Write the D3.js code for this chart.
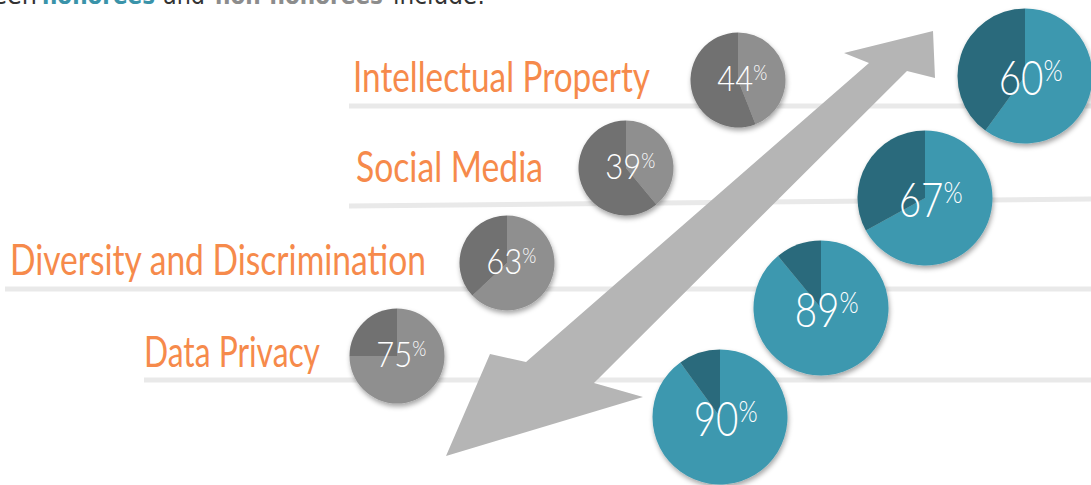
<!DOCTYPE html>
<html>
<head>
<meta charset="UTF-8"/>
<title>Honorees vs non-honorees</title>
<script src="https://d3js.org/d3.v7.min.js"></script>
<style>
body { margin: 0; background: #fff; }
svg { display: block; }
</style>
</head>
<body>
<div id="chart"></div>
<script>

// DATA
var topics = ["Intellectual Property", "Social Media", "Diversity and Discrimination", "Data Privacy"];
var nonHonorees = [44, 39, 63, 75];
var honorees = [60, 67, 89, 90];

// LAYOUT (pixels)
var labelPos = [[353, 92, 297], [356, 182, 187], [10, 275, 416], [144, 367, 176]];
var rulePos = [[349, 106, 106], [349, 206, 199], [5, 289, 289], [144, 380, 380]];
var greyPos = [[738, 80], [626, 168], [507, 263], [397, 356]];
var tealPos = [[1025, 76], [925, 198], [821, 308], [720, 417]];
var arrowPts = [[933, 31], [935, 78], [907, 71], [594, 383], [643, 397],
                [446, 456], [490, 354], [526, 362], [869, 63], [844, 53]];

var W = 1091, H = 485;

var svg = d3.select("#chart").append("svg")
    .attr("width", W)
    .attr("height", H);

var defs = svg.append("defs");
defs.append("filter")
    .attr("id", "shadow")
    .attr("x", "-20%").attr("y", "-20%")
    .attr("width", "140%").attr("height", "150%")
  .append("feDropShadow")
    .attr("dx", 1).attr("dy", 3)
    .attr("stdDeviation", 2.5)
    .attr("flood-color", "#000")
    .attr("flood-opacity", 0.35);

// header line, mostly cut off at the top
var head = svg.append("g")
    .attr("font-family", "'DejaVu Sans', sans-serif")
    .attr("font-size", 24);
head.append("text").attr("x", 37).attr("y", 4).attr("text-anchor", "end")
    .attr("fill", "#333").text("between");
head.append("text").attr("x", 42).attr("y", 4).attr("textLength", 113)
    .attr("lengthAdjust", "spacingAndGlyphs")
    .attr("font-weight", "bold").attr("fill", "#3a93a9").text("honorees");
head.append("text").attr("x", 163).attr("y", 4).attr("textLength", 42)
    .attr("lengthAdjust", "spacingAndGlyphs")
    .attr("fill", "#333").text("and");
head.append("text").attr("x", 215).attr("y", 4).attr("textLength", 168)
    .attr("lengthAdjust", "spacingAndGlyphs")
    .attr("font-weight", "bold").attr("fill", "#8c8c8c").text("non-honorees");
head.append("text").attr("x", 393).attr("y", 4).attr("textLength", 92)
    .attr("lengthAdjust", "spacingAndGlyphs")
    .attr("fill", "#333").text("include:");

// rules
svg.append("g").selectAll("line")
    .data(rulePos)
  .enter().append("line")
    .attr("x1", function(d) { return d[0]; })
    .attr("y1", function(d) { return d[1]; })
    .attr("x2", W)
    .attr("y2", function(d) { return d[2]; })
    .attr("stroke", "#e9e9e9")
    .attr("stroke-width", 5);

// topic labels
svg.append("g").selectAll("text")
    .data(topics)
  .enter().append("text")
    .attr("x", function(d, i) { return labelPos[i][0]; })
    .attr("y", function(d, i) { return labelPos[i][1]; })
    .attr("textLength", function(d, i) { return labelPos[i][2]; })
    .attr("lengthAdjust", "spacingAndGlyphs")
    .attr("font-family", "Lato, 'Open Sans', sans-serif")
    .attr("font-weight", 400)
    .attr("font-size", 43)
    .attr("fill", "#f68a4b")
    .text(function(d) { return d; });

// arrow
svg.append("polygon")
    .attr("points", arrowPts.map(function(p) { return p.join(","); }).join(" "))
    .attr("fill", "#b5b5b5");

// pies
var pie = d3.pie().sort(null).value(function(d) { return d; });

function drawPies(values, pos, r, light, dark, numSize, pctSize, dy, width) {
    var arc = d3.arc().innerRadius(0).outerRadius(r);
    var g = svg.append("g").selectAll("g")
        .data(values)
      .enter().append("g")
        .attr("transform", function(d, i) { return "translate(" + pos[i][0] + "," + pos[i][1] + ")"; });

    g.append("g")
        .attr("filter", "url(#shadow)")
      .selectAll("path")
        .data(function(d) { return pie([d, 100 - d]); })
      .enter().append("path")
        .attr("d", arc)
        .attr("fill", function(d, i) { return i == 0 ? light : dark; });

    var t = g.append("text")
        .attr("x", numSize * 0.12)
        .attr("y", dy)
        .attr("text-anchor", "middle")
        .attr("textLength", width)
        .attr("lengthAdjust", "spacingAndGlyphs")
        .attr("font-family", "Lato, 'Open Sans', sans-serif")
        .attr("font-weight", 300)
        .attr("fill", "#fff");
    t.append("tspan")
        .attr("font-size", numSize)
        .text(function(d) { return d; });
    t.append("tspan")
        .attr("font-size", pctSize)
        .attr("dy", -numSize * 0.3)
        .text("%");
}

drawPies(nonHonorees, greyPos, 47.5, "#8f8f8f", "#717171", 36, 21, 11, 50);
drawPies(honorees, tealPos, 67.5, "#3d98af", "#2a6b7b", 47, 30, 19, 64);

</script>
</body>
</html>
